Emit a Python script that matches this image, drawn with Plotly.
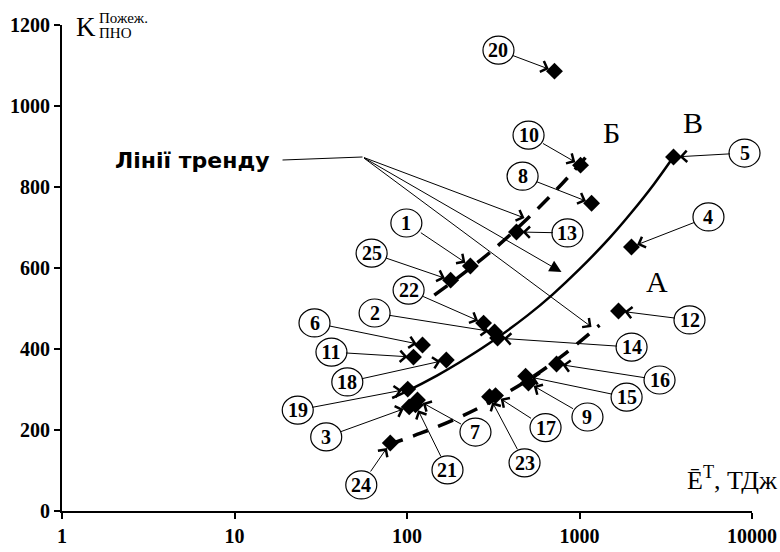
import math
import plotly.graph_objects as go

# ---------------- data ----------------
point_ids = ["1", "2", "3", "4", "5", "6", "7", "8", "9", "10", "11", "12", "13",
             "14", "15", "16", "17", "18", "19", "20", "21", "22", "23", "24", "25"]
point_x = [233, 322, 103, 2001, 3508, 123, 115, 1175, 506, 1014, 109, 1683, 431,
           335, 487, 736, 326, 169, 101, 716, 112, 278, 301, 80, 179]
point_y = [605, 442, 257, 652, 874, 410, 274, 760, 316, 854, 380, 494, 689,
           427, 333, 363, 285, 373, 301, 1086, 262, 464, 282, 168, 570]

# trend lines
trend_a_x = [77, 120, 200, 300, 500, 800, 1306]
trend_a_y = [163, 192, 231, 268, 323, 384, 459]
trend_b_x = [144, 200, 300, 500, 800, 1143]
trend_b_y = [533, 578, 637, 722, 810, 884]
trend_v_x = [82, 100, 150, 200, 300, 500, 700, 1000, 1500, 2000, 2700, 3500]
trend_v_y = [279, 296, 335, 366, 414, 483, 535, 597, 675, 737, 807, 874]

x_tick_vals = [1, 10, 100, 1000, 10000]
x_tick_text = ["1", "10", "100", "1000", "10000"]
y_tick_vals = [0, 200, 400, 600, 800, 1000, 1200]
X_RANGE = [0, 4]          # log10 range
Y_RANGE = [0, 1200]

# ---------------- layout of the numbered labels (pixel offsets) ----------------
label_offsets = {
    "1": (-64, -43), "2": (-120, -19), "3": (-83, 30), "4": (77, -30), "5": (71, -4),
    "6": (-108, -22), "7": (58, 32), "8": (-69, -27), "9": (59, 34), "10": (-52, -30),
    "11": (-82, -5), "12": (71, 9), "13": (51, 1), "14": (134, 9), "15": (101, 21),
    "16": (103, 16), "17": (50, 32), "18": (-99, 22), "19": (-110, 21), "20": (-56, -21),
    "21": (32, 65), "22": (-75, -33), "23": (35, 66), "24": (-29, 42), "25": (-79, -27),
}

W, H = 780, 552
M = dict(l=62, r=28, t=25, b=41)
PW = W - M["l"] - M["r"]
PH = H - M["t"] - M["b"]

SERIF = "Liberation Serif"
SANS = "DejaVu Sans"


def to_paper(xv, yv):
    fx = (math.log10(xv) - X_RANGE[0]) / (X_RANGE[1] - X_RANGE[0])
    fy = (yv - Y_RANGE[0]) / (Y_RANGE[1] - Y_RANGE[0])
    return fx, fy


fig = go.Figure()

fig.add_trace(go.Scatter(x=trend_b_x, y=trend_b_y, mode="lines", line_shape="spline",
                         line=dict(color="black", width=3.5, dash="16px,11px"),
                         hoverinfo="skip", showlegend=False))
fig.add_trace(go.Scatter(x=trend_a_x, y=trend_a_y, mode="lines", line_shape="spline",
                         line=dict(color="black", width=3.5, dash="16px,11px"),
                         hoverinfo="skip", showlegend=False))
fig.add_trace(go.Scatter(x=trend_v_x, y=trend_v_y, mode="lines", line_shape="spline",
                         line=dict(color="black", width=2.5),
                         hoverinfo="skip", showlegend=False))
fig.add_trace(go.Scatter(x=point_x, y=point_y, mode="markers", text=point_ids,
                         marker=dict(symbol="diamond", size=13, color="black"),
                         showlegend=False))

annotations = []
shapes = []
RX, RY = 15.5, 14
for pid, px, py in zip(point_ids, point_x, point_y):
    ax, ay = label_offsets[pid]
    annotations.append(dict(
        x=math.log10(px), y=py, xref="x", yref="y",
        text="<b>%s</b>" % pid, showarrow=True, ax=ax, ay=ay,
        arrowhead=4, arrowsize=2.2, arrowwidth=1, arrowcolor="black", standoff=6,
        width=26, height=24, xanchor="center", yanchor="middle",
        font=dict(family=SERIF, size=20, color="black"),
    ))
    fx, fy = to_paper(px, py)
    cx = fx + ax / PW
    cy = fy - ay / PH
    shapes.append(dict(
        type="circle", xref="paper", yref="paper",
        x0=cx - RX / PW, x1=cx + RX / PW, y0=cy - RY / PH, y1=cy + RY / PH,
        line=dict(color="black", width=1.2), fillcolor="rgba(0,0,0,0)", layer="above",
    ))


def ptext(txt, x, y, size, family=SERIF, xanchor="center", yanchor="middle"):
    return dict(x=x, y=y, xref="paper", yref="paper", text=txt, showarrow=False,
                xanchor=xanchor, yanchor=yanchor,
                font=dict(family=family, size=size, color="black"))


# "Лінії тренду" pointer
annotations.append(ptext("<b>Лінії тренду</b>", 0.1891, 0.7222, 22, family=SANS))
shapes.append(dict(type="line", xref="paper", yref="paper",
                   x0=0.3196, y0=0.7222, x1=0.4355, y1=0.7284,
                   line=dict(color="black", width=1)))
for tx, ty, ax, ay, head, size in [
    (0.6703, 0.6029, -162, -61, 4, 2.2),
    (0.7239, 0.4918, -199, -115, 2, 2.4),
    (0.7674, 0.3786, -229, -170, 4, 2.2),
]:
    annotations.append(dict(x=tx, y=ty, xref="paper", yref="paper", text="",
                            showarrow=True, ax=ax, ay=ay, arrowhead=head,
                            arrowsize=size, arrowwidth=1, arrowcolor="black"))

# curve letters
for txt, lx, ly in [("Б", 0.7964, 0.7798), ("В", 0.9138, 0.7984), ("А", 0.8616, 0.4712)]:
    annotations.append(ptext(txt, lx, ly, 30))

# axis titles
annotations.append(ptext("K", 0.0341, 0.9959, 27))
annotations.append(ptext("Пожеж.", 0.050, 1.0144, 15, xanchor="left"))
annotations.append(ptext("ПНО", 0.050, 0.9835, 15, xanchor="left"))
annotations.append(ptext("Ē<sup>T</sup>, ТДж", 1.0399, 0.0679, 26, xanchor="right"))

fig.update_layout(
    template="none",
    width=W, height=H,
    margin=M,
    paper_bgcolor="white", plot_bgcolor="white",
    annotations=annotations, shapes=shapes,
    xaxis=dict(type="log", range=X_RANGE, tickmode="array", tickvals=x_tick_vals,
               ticktext=x_tick_text, showgrid=False, zeroline=False, automargin=False,
               showline=True, linecolor="black", linewidth=2,
               ticks="outside", ticklen=6, tickwidth=2, tickcolor="black",
               tickfont=dict(family=SERIF, size=20, color="black", weight="bold")),
    yaxis=dict(range=Y_RANGE, tickmode="array", tickvals=y_tick_vals,
               showgrid=False, zeroline=False, automargin=False,
               showline=True, linecolor="black", linewidth=2,
               ticks="outside", ticklen=6, tickwidth=2, tickcolor="black",
               tickfont=dict(family=SERIF, size=20, color="black", weight="bold")),
)

fig.write_html("out.html", config={"displayModeBar": False},
               post_script="document.body.style.margin='0px';document.body.style.padding='0px';")
